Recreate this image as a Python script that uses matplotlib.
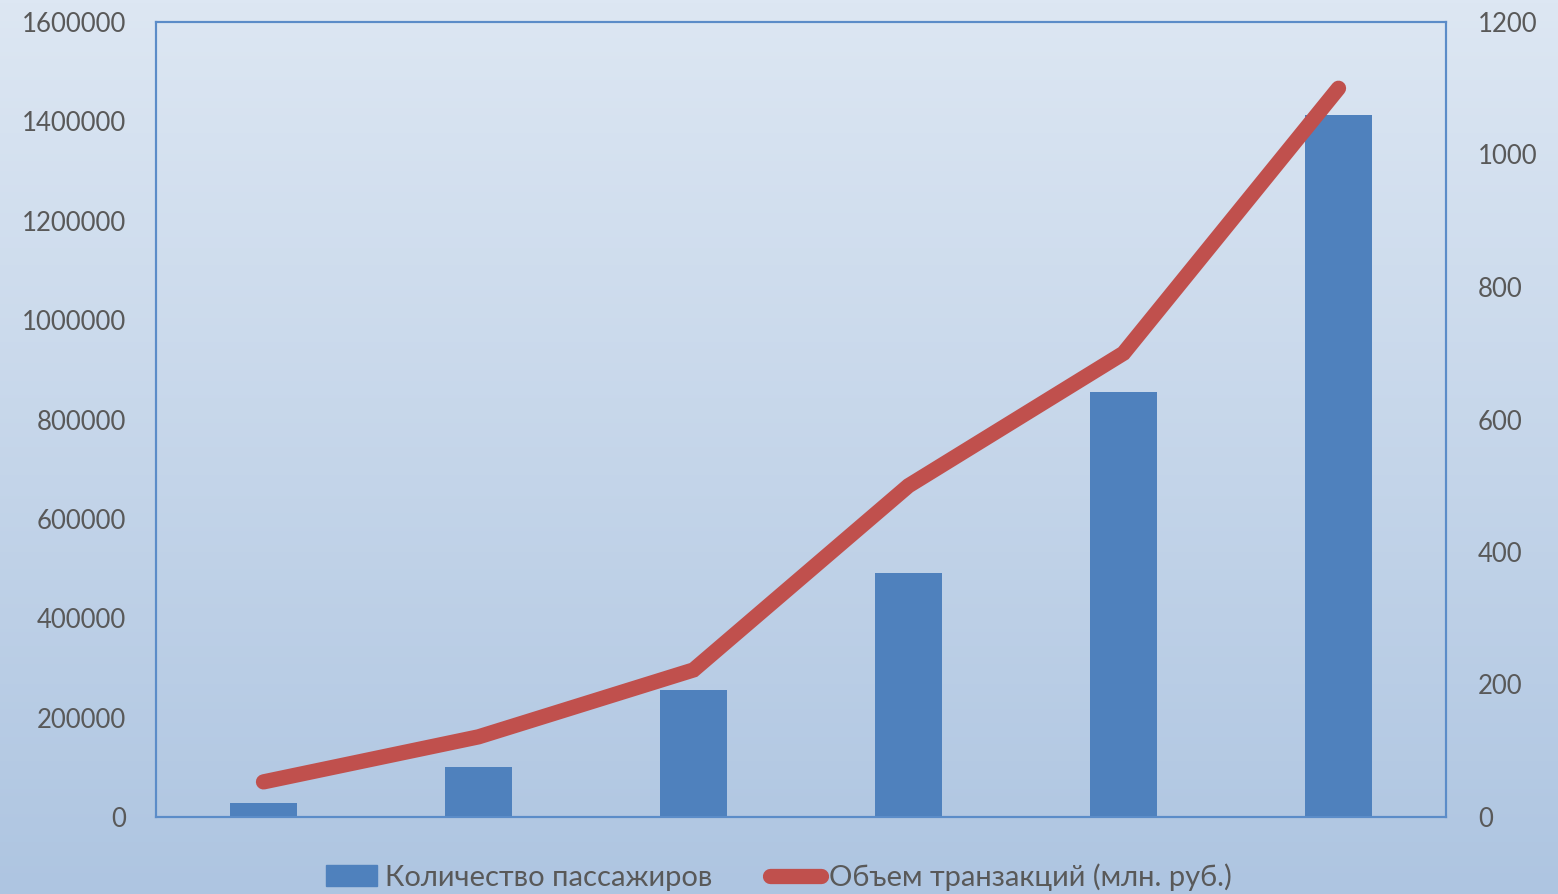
import numpy as np
import matplotlib
matplotlib.use("Agg")
import matplotlib.pyplot as plt
from matplotlib.lines import Line2D
from matplotlib.patches import Patch

plt.rcParams['font.family'] = ['Lato', 'DejaVu Sans']

categories = [1, 2, 3, 4, 5, 6]
passengers = [28000, 100000, 255000, 491000, 855000, 1412000]
transactions = [53, 121, 222, 500, 700, 1100]

bar_label = "Количество пассажиров"
line_label = "Объем транзакций (млн. руб.)"
left_ticks = [0, 200000, 400000, 600000, 800000, 1000000, 1200000, 1400000, 1600000]
right_ticks = [0, 200, 400, 600, 800, 1000, 1200]

text_color = "#595959"
bar_color = "#4f81bd"
line_color = "#c0504d"

fig = plt.figure(figsize=(15.58, 8.94), dpi=100)

# gradient background
bg = fig.add_axes([0, 0, 1, 1], zorder=-10)
grad = np.linspace(0, 1, 256).reshape(-1, 1)
cmap = matplotlib.colors.LinearSegmentedColormap.from_list("bg", ["#dde7f3", "#aec5e1"])
bg.imshow(grad, aspect="auto", cmap=cmap, extent=[0, 1, 0, 1], origin="upper")
bg.set_axis_off()

ax = fig.add_axes([156 / 1558, 1 - 817 / 894, 1290 / 1558, 795 / 894])
ax.set_facecolor("none")
x = np.arange(len(categories))
ax.bar(x, passengers, width=0.31, color=bar_color, zorder=2)
ax.set_xlim(-0.5, len(categories) - 0.5)
ax.set_ylim(0, 1600000)
ax.set_yticks(left_ticks)
ax.set_yticklabels([str(t) for t in left_ticks])
ax.set_xticks([])
ax.tick_params(axis="y", length=0, pad=21.5, labelsize=18.5, labelcolor=text_color)
for s in ax.spines.values():
    s.set_color("#5b8cc8")
    s.set_linewidth(1.5)

ax2 = ax.twinx()
ax2.plot(x, transactions, color=line_color, lw=11, solid_capstyle="round",
         solid_joinstyle="miter", zorder=3)
ax2.set_ylim(0, 1200)
ax2.set_yticks(right_ticks)
ax2.set_yticklabels([str(t) for t in right_ticks])
ax2.tick_params(axis="y", length=0, pad=23, labelsize=18.5, labelcolor=text_color)
for s in ax2.spines.values():
    s.set_color("#5b8cc8")
    s.set_linewidth(1.5)

handles = [Patch(color=bar_color, label=bar_label),
           Line2D([0], [0], color=line_color, lw=11, solid_capstyle="round", label=line_label)]
fig.legend(handles=handles, loc="center", bbox_to_anchor=(0.5, 1 - 877 / 894), ncol=2,
           frameon=False, fontsize=21, labelcolor=text_color, handlelength=1.75,
           handleheight=0.7, handletextpad=0.25, columnspacing=2.0)

fig.savefig("out.png", dpi=100)
